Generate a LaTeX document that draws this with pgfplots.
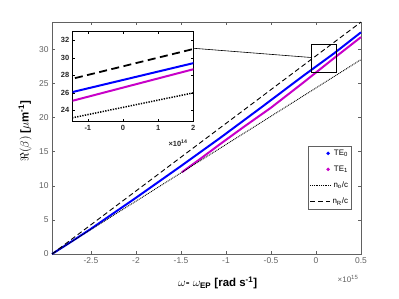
\documentclass[border=0pt]{standalone}
\usepackage{amsmath}
\usepackage{pgfplots}
\pgfplotsset{compat=1.18}
\usepackage{fontspec}
\setmainfont{Liberation Sans}
\definecolor{mag}{RGB}{200,0,200}
\definecolor{axgray}{gray}{0.38}
\begin{document}
\begin{tikzpicture}
\useasboundingbox (0,0) rectangle (399bp,299bp);
\begin{axis}[
  at={(52bp,45bp)}, anchor=south west,
  width=309bp, height=232bp, scale only axis,
  xmin=-2.933, xmax=0.5, ymin=0, ymax=34,
  xtick={-2.5,-2,-1.5,-1,-0.5,0,0.5},
  xticklabels={-2.5,-2,-1.5,-1,-0.5,0,0.5},
  ytick={0,5,10,15,20,25,30},
  yticklabels={0,5,10,15,20,25,30},
  tick align=inside, major tick length=3bp,
  axis line style={axgray, line width=0.5pt},
  tick style={axgray, line width=0.5pt},
  tick label style={font=\fontsize{8.5}{10}\selectfont, text=axgray},
  xlabel={$\omega$\textbf{- }$\omega_{\textbf{EP}}$ \textbf{[rad s$^{\textbf{-1}}$]}},
  xlabel style={at={(axis description cs:0.536,-0.125)}, anchor=center, font=\fontsize{11.5}{13}\selectfont},
  ylabel={$\Re(\beta)$ \textbf{[}$\mu$\textbf{m}$^{\textbf{-1}}$\textbf{]}},
  ylabel style={at={(axis description cs:-0.087,0.53)}, anchor=center, rotate=0, font=\fontsize{11.5}{13}\selectfont},
  legend style={draw=axgray, fill=white, font=\fontsize{8}{9}\selectfont,
    at={(axis description cs:0.970,0.467)}, anchor=north east,
    inner xsep=1.5pt, inner ysep=2pt, row sep=5pt, line width=0.5pt},
  legend cell align=right,
  legend image code/.code={\draw[#1] (0bp,0bp) -- (20bp,0bp);},
  clip=false,
]
\addplot[blue, line width=2pt,
  legend image code/.code={\fill[blue] (18bp,0bp) circle (0.5pt);}]
coordinates {
(-2.933,0) (-2.7,1.96) (-2.5,3.69) (-2.25,5.97) (-2.0,8.24) (-1.5,12.89)
(-1.067,16.99) (-0.6,21.56) (-0.143,26.10) (0.2,29.40) (0.5,32.49)
};
\addlegendentry{TE\textsubscript{0}}
\addplot[mag, line width=2pt,
  legend image code/.code={\fill[mag] (18bp,0bp) circle (0.5pt);}]
coordinates {
(-1.49,11.98) (-1.3,13.80) (-1.067,16.09) (-0.8,18.65) (-0.5,21.44)
(-0.143,25.10) (0.2,28.70) (0.5,31.79)
};
\addlegendentry{TE\textsubscript{1}}
\addplot[black, line width=0.9pt, dash pattern=on 0.9bp off 0.9bp]
coordinates {(-2.933,0) (0.5,28.49)};
\addlegendentry{n\textsubscript{o}/c}
\addplot[black, line width=0.9pt, dash pattern=on 5bp off 3bp]
coordinates {(-2.933,0) (0.5,33.99)};
\addlegendentry{n\textsubscript{R}/c}
\draw[black, line width=0.6pt] (axis cs:-0.056,30.7) rectangle (axis cs:0.23,26.7);
\draw[black, line width=0.6pt] (axis cs:-1.363,30.15) -- (axis cs:-0.056,28.8);
\end{axis}
\node[font=\fontsize{8}{9}\selectfont, text=axgray] at (348bp,20bp) {×10\textsuperscript{15}};
\begin{axis}[
  at={(72.7bp,177.3bp)}, anchor=south west,
  width=120.6bp, height=90bp, scale only axis,
  xmin=-0.143, xmax=0.2, ymin=22.7, ymax=33,
  xtick={-0.1,0,0.1,0.2},
  xticklabels={-1,0,1,2},
  ytick={24,26,28,30,32},
  yticklabels={24,26,28,30,32},
  tick align=inside, major tick length=2.5bp,
  axis line style={black, line width=0.8pt},
  tick style={black, line width=0.6pt},
  tick label style={font=\bfseries\fontsize{7.5}{8}\selectfont, text=black!85},
  axis background/.style={fill=white},
]
\addplot[blue, line width=2pt] coordinates {
(-1.067,16.99) (-0.6,21.56) (-0.143,26.10) (0.2,29.40) (0.5,32.49)
};
\addplot[mag, line width=2pt] coordinates {
(-0.5,21.44) (-0.143,25.10) (0.2,28.70) (0.5,31.79)
};
\addplot[black, line width=1.5pt, dash pattern=on 1.3bp off 1.3bp]
coordinates {(-2.933,0) (0.5,28.49)};
\addplot[black, line width=1.8pt, dash pattern=on 8bp off 4.5bp]
coordinates {(-2.933,0) (0.5,33.99)};
\end{axis}
\node[font=\bfseries\fontsize{7.5}{8}\selectfont, text=black!85] at (178bp,156bp) {×10\textsuperscript{14}};
\end{tikzpicture}
\end{document}
